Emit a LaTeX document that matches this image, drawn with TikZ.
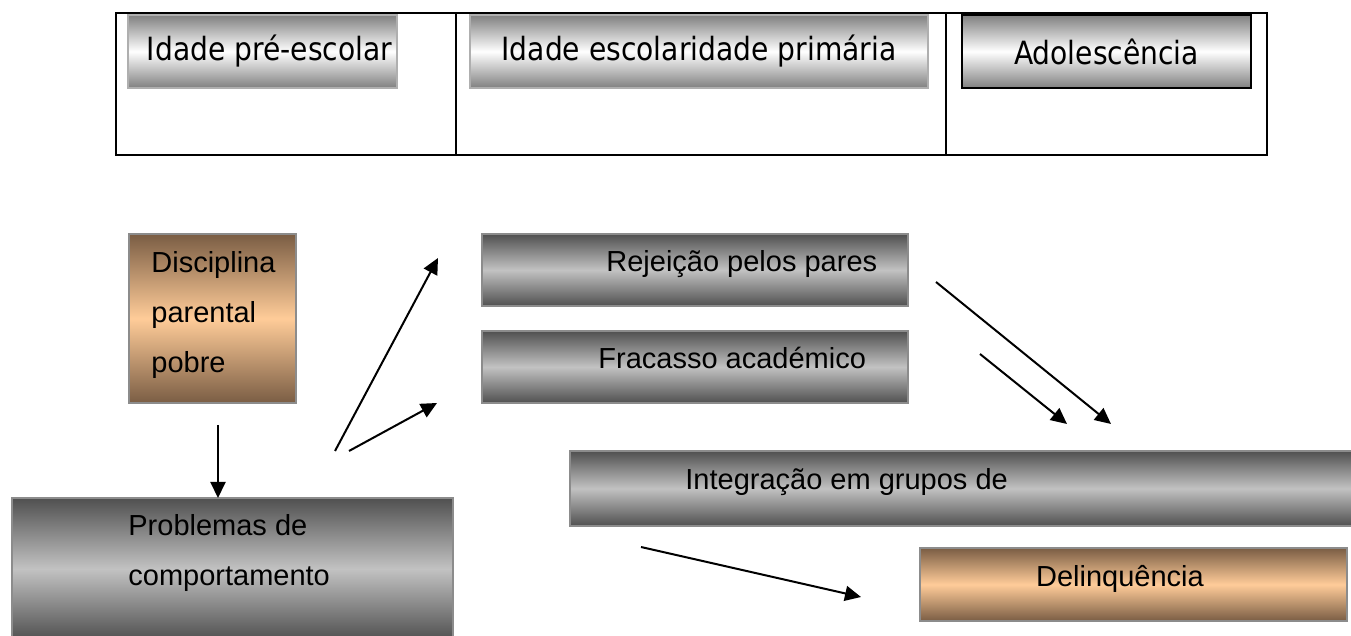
\documentclass[tikz,border=0pt]{standalone}
\usepackage{fontspec}
\setmainfont{Liberation Sans}
\newfontfamily\comicfont[FakeStretch=0.88]{DejaVu Sans}
\usetikzlibrary{arrows.meta,calc}
\definecolor{darkg}{RGB}{80,80,80}
\definecolor{lightg}{RGB}{194,194,194}
\definecolor{silverg}{RGB}{128,128,128}
\definecolor{brownd}{RGB}{122,93,68}
\definecolor{peach}{RGB}{255,204,153}
\definecolor{edgeg}{RGB}{140,140,140}
\definecolor{edgel}{RGB}{175,175,175}
\begin{document}
\begin{tikzpicture}[x=0.5pt,y=-0.5pt,
  sized/.style 2 args={minimum width=#1*0.5pt, minimum height=#2*0.5pt, inner sep=0pt, anchor=north west, outer sep=0pt},
  silverbox/.style={draw=edgel, line width=0.6pt, top color=silverg, bottom color=silverg, middle color=white, font=\comicfont\fontsize{16}{18}\selectfont},
  graybox/.style={draw=edgeg, line width=0.6pt, top color=darkg, bottom color=darkg, middle color=lightg},
  brownbox/.style={draw=edgeg, line width=0.6pt, top color=brownd, bottom color=brownd, middle color=peach},
  lbl/.style={font=\fontsize{14.5}{25}\selectfont, inner sep=0pt, align=left},
  arr/.style={line width=1pt, -{Triangle[length=8pt,width=7.5pt]}},
  tableline/.style={line width=1pt}
]
\clip (0,0) rectangle (1351,636);
\fill[white] (0,0) rectangle (1351,636);
% table
\draw[tableline] (116,13) rectangle (1267,155);
\draw[tableline] (456,13) -- (456,155);
\draw[tableline] (946,13) -- (946,155);
% top boxes
\node[silverbox, sized={269}{73}] (pre) at (128,15) {\hspace*{7pt}Idade pré-escolar};
\node[silverbox, sized={458}{73}] (esc) at (470,15) {Idade escolaridade primária};
\node[silverbox, sized={289}{73}, draw=black, line width=0.8pt] (ado) at (962,15) {Adolescência};
% lower boxes
\node[brownbox, sized={167}{169}] (disc) at (129,234) {};
\node[graybox, sized={441}{142}] (prob) at (12,498) {};
\node[graybox, sized={426}{72}] (rej) at (482,234) {};
\node[graybox, sized={426}{72}] (frac) at (482,331) {};
\node[graybox, sized={790}{75}] (integ) at (570,451) {};
\node[brownbox, sized={427}{73}] (delin) at (920,548) {};
% texts
\node[lbl, anchor=west] (disct) at ($(disc.west)+(22,-3)$) {Disciplina\\parental\\pobre};
\node[lbl, anchor=west] (probt) at ($(prob.west)+(116,-15.5)$) {Problemas de\\comportamento};
\node[lbl, anchor=base west] (rejt) at ($(rej.north west)+(124,38)$) {Rejeição pelos pares};
\node[lbl, anchor=base west] (fract) at ($(frac.north west)+(116,38)$) {Fracasso académico};
\node[lbl, anchor=base west] (integt) at ($(integ.north west)+(115,39)$) {Integração em grupos de};
\node[lbl, anchor=base] (delint) at ($(delin.north)+(-13.5,38)$) {Delinquência};
% arrows
\coordinate (dtop) at ($(disc.south)+(5.5,22)$);
\draw[arr] (dtop) -- (dtop |- prob.north);
\coordinate (a1s) at (335,451); \coordinate (a1e) at (438,258);
\coordinate (a2s) at (349,451); \coordinate (a2e) at (437,403);
\coordinate (a3s) at (936,282); \coordinate (a3e) at (1111,424);
\coordinate (a4s) at (980,354); \coordinate (a4e) at (1067,424);
\coordinate (a5s) at (641,547); \coordinate (a5e) at (861,597);
\draw[arr] (a1s) -- (a1e);
\draw[arr] (a2s) -- (a2e);
\draw[arr] (a3s) -- (a3e);
\draw[arr] (a4s) -- (a4e);
\draw[arr] (a5s) -- (a5e);
\end{tikzpicture}
\end{document}
